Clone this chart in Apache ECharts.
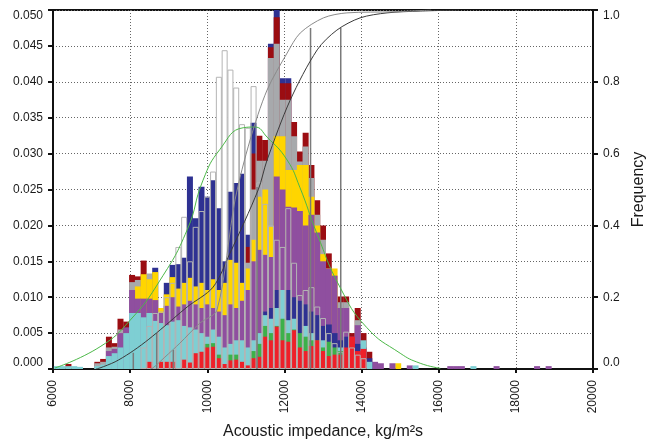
<!DOCTYPE html>
<html><head><meta charset="utf-8">
<script src="https://cdn.jsdelivr.net/npm/echarts@6/dist/echarts.min.js"></script>
<style>html,body{margin:0;padding:0;background:#fff}#c{width:647px;height:447px}</style>
</head><body><div id="c"></div>
<script>
// bin centres (kg/m2s), bin width 150
const bins = [6100,6250,6400,6550,6700,6850,7000,7150,7300,7450,7600,7750,7900,8050,8200,8350,8500,8650,8800,8950,9100,9250,9400,9550,9700,9850,10000,10150,10300,10450,10600,10750,10900,11050,11200,11350,11500,11650,11800,11950,12100,12250,12400,12550,12700,12850,13000,13150,13300,13450,13600,13750,13900,14050,14200,14350,14500,14650,14800,14950,15100,15250,15400];
// visible top height of each colour band (frequency density)
const blueTop = [0,0,0,0,0,0,0,0,0,0,0,0,0,0,0,0,0,0,0,0,0,0,0,0,0,0,0,0,0,0,0,0,0,.0187,.0343,0,0,.0453,.0500,.0405,.0405,0,0,0,0,0,0,0,0,0,0,0,0,0,0,0,0,0,0,0,0,0,0];
const darkRed = [0,0,.0007,0,0,0,0,.0010,.0014,.0045,.0036,.0070,.0066,.0131,.0129,.0151,0,0,0,0,0,0,0,0,0,0,0,0,0,0,0,0,0,.0170,.0300,.0325,.0319,.0448,.0490,.0398,.0398,.0344,.0303,.0329,.0284,.0235,.0200,.0161,0,.0101,.0101,.0050,.0085,.0050,.0024,0,0,0,0,0,0,0,0];
const grey = [0,0,0,0,0,0,0,.0008,.0010,.0030,.0031,.0055,0,.0121,.0124,0,.0133,0,0,0,0,0,0,0,0,0,0,0,0,0,0,0,0,.0148,.0250,.0290,.0290,.0433,.0453,.0375,.0375,.0324,.0289,.0310,.0266,.0215,.0180,0,0,.0093,.0093,0,.0068,0,0,0,0,0,0,0,0,0,0];
const blueHigh = [0,0,0,0,0,0,0,0,0,0,0,0,0,0,0,0,0,.0141,0,.0120,.0145,.0146,.0155,.0268,.0210,.0254,.0240,.0263,.0224,.0150,.0247,.0259,.0272,0,0,0,0,0,0,0,0,0,0,0,0,0,0,0,0,0,0,0,0,0,0,0,0,0,0,0,0,0,0];
const yellow = [0,0,0,0,0,0,0,0,0,0,0,0,0,0,.0115,.0132,.0125,.0135,.0085,.0104,.0128,.0112,.0120,.0127,.0115,.0120,.0110,.0125,.0110,.0120,.0152,.0148,.0120,.0140,.0180,.0240,.0250,.0198,.0324,.0324,.0277,.0277,.0284,.0284,.0240,.0200,.0160,.0140,.0140,0,0,0,0,0,0,0,0,0,0,.0008,0,0,0];
const purple = [0,0,0,0,0,0,0,0,0,.0025,.0028,.0050,.0058,.0110,.0098,.0098,.0098,.0096,.0078,.0088,.0100,.0087,.0090,.0095,.0090,.0085,.0090,.0085,.0080,.0075,.0090,.0085,.0095,.0110,.0150,.0166,.0159,.0156,.0268,.0250,.0226,.0225,.0220,.0200,.0215,.0190,.0150,.0140,.0130,.0085,.0085,.0045,.0061,0,0,.0010,.0008,0,.0008,0,0,.0005,0];
const blueLow = [0,0,0,0,0,0,0,0,0,0,0,0,0,0,0,0,0,0,0,0,0,0,0,0,0,0,0,0,0,0,0,0,0,0,0,0,.0080,.0085,.0110,.0110,.0110,.0100,.0095,.0090,.0080,.0075,.0060,.0062,.0050,.0040,.0045,.0030,.0035,.0030,.0015,0,0,0,0,0,0,0,0];
const cyan = [.0004,.0004,.0004,.0004,.0003,0,0,.0004,.0006,.0018,.0022,.0030,.0050,.0078,.0078,.0072,.0078,.0067,.0064,.0061,.0066,.0068,.0060,.0058,.0055,.0050,.0045,.0055,.0045,.0030,.0035,.0040,.0040,.0030,.0040,.0050,.0075,.0070,.0085,.0110,.0068,.0070,0,.0060,.0050,0,.0040,0,0,.0030,0,.0025,.0020,.0040,.0010,0,0,0,0,0,0,0,.0005];
const green = [0,0,0,0,0,0,0,0,0,0,0,0,0,0,0,0,0,0,0,0,0,0,0,0,0,0,.0035,.0036,.0020,0,.0020,.0020,0,0,.0025,.0035,.0060,.0050,.0060,.0070,.0050,.0055,.0050,.0045,.0040,.0040,.0030,.0038,.0030,.0025,.0028,0,0,0,0,0,0,0,0,0,0,0,0];
const red = [0,0,0,0,0,0,0,0,0,0,0,0,0,0,0,0,.0010,0,.0010,.0010,.0010,0,.0013,.0009,.0022,.0024,.0030,.0031,.0015,.0007,.0012,.0013,.0010,.0005,.0015,.0017,.0045,.0040,.0059,.0040,.0038,.0054,.0030,.0025,.0032,.0040,.0025,.0018,.0020,.0020,.0030,.0045,.0025,.0028,0,0,0,0,0,0,0,0,0];
// outline (unfilled) histogram
const outline = [0,0,0,0,0,0,0,0,0,0,0,0,0,0,0,.0030,.0060,.0078,.0080,.0100,.0120,.0170,.0212,.0150,.0198,.0220,.0240,.0275,.0407,.0444,.0417,.0392,.0341,.0336,.0394,.0260,.0230,.0200,.0180,.0170,.0224,.0148,.0103,.0110,.0114,.0087,.0071,.0050,.0036,.0024,.0052,.0030,.0020,.0015,0,0,0,0,0,0,0,0,0];
// sparse high-impedance tail
const tailBins = [16300,16450,16600,16900,17500,18550,18850];
const tailPurple = [.0004,.0004,.0004,0,.0004,.0004,.0004];
const tailCyan = [0,0,0,.0004,0,0,0];
// normal fit curve
const fitX = [6050,7220,8000,8780,9480,9890,10330,10930,11230,11550,12070,12400,12840,13440,14130,15000,15520,16040];
const fitY = [.00014,.0031,.0068,.0124,.0194,.0263,.0306,.0336,.0337,.0323,.0291,.0253,.0189,.0114,.0058,.0022,.0008,.0001];
// cumulative frequency curves
const cumDarkX = [7115,7220,7610,8000,8390,8780,9480,10150,10590,11320,11550,12150,12850,13360,13960,14660,15520,16530];
const cumDarkY = [0,.003,.020,.045,.075,.109,.173,.228,.323,.499,.582,.749,.889,.944,.978,.992,.997,1.0];
const cumLightX = [8515,8590,8900,9290,9810,10250,10720,11110,11550,12070,12410,13010,13620,14840,15800];
const cumLightY = [0,.003,.033,.072,.128,.164,.471,.638,.777,.880,.936,.978,.992,.995,1.0];
const dropX = [8082,8689,11290,13460,9119,12677];
const dropY = [.045,.10,.507,.95,.053,.95];

const FONT = 'Liberation Sans, Arial, sans-serif';
const pair = (arr) => bins.map((b, i) => [b, arr[i] > 0 ? arr[i] : '-']);
const barBase = {type: 'bar', barWidth: 6, barGap: '-100%', animation: false};
const colours = [
  ['blueTop', blueTop, '#2e3192'], ['darkRed', darkRed, '#9b0d12'], ['grey', grey, '#a7a9ac'],
  ['blueHigh', blueHigh, '#2e3192'], ['yellow', yellow, '#ffd500'], ['purple', purple, '#8f4f9f'],
  ['blueLow', blueLow, '#2e3192'], ['cyan', cyan, '#7ecfd3'], ['green', green, '#3cb14a'], ['red', red, '#ee2029']
];
const series = [];
series.push(Object.assign({}, barBase, {name: 'outlineFill', data: pair(outline), itemStyle: {color: '#fff'}}));
colours.forEach(c => series.push(Object.assign({}, barBase, {name: c[0], data: pair(c[1]), itemStyle: {color: c[2]}})));
series.push(Object.assign({}, barBase, {name: 'tailPurple', data: tailBins.map((b, i) => [b, tailPurple[i] > 0 ? tailPurple[i] : '-']), itemStyle: {color: '#8f4f9f'}}));
series.push(Object.assign({}, barBase, {name: 'tailCyan', data: tailBins.map((b, i) => [b, tailCyan[i] > 0 ? tailCyan[i] : '-']), itemStyle: {color: '#7ecfd3'}}));
series.push(Object.assign({}, barBase, {name: 'outline', data: pair(outline), itemStyle: {color: 'rgba(0,0,0,0)', borderColor: '#b4b4b4', borderWidth: 1}}));
series.push({type: 'line', name: 'fit', data: fitX.map((x, i) => [x, fitY[i]]), smooth: true, showSymbol: false, lineStyle: {color: '#4cb848', width: 1}, z: 5, animation: false});
series.push({type: 'line', name: 'cumDark', yAxisIndex: 1, data: cumDarkX.map((x, i) => [x, cumDarkY[i]]), smooth: 0.3, showSymbol: false, lineStyle: {color: '#3a3a3a', width: 1}, z: 5, animation: false});
series.push({type: 'line', name: 'cumLight', yAxisIndex: 1, data: cumLightX.map((x, i) => [x, cumLightY[i]]), smooth: 0.3, showSymbol: false, lineStyle: {color: '#8a8a8a', width: 1}, z: 5, animation: false});
dropX.forEach((x, i) => series.push({type: 'line', yAxisIndex: 1, data: [[x, 0], [x, dropY[i]]], showSymbol: false, lineStyle: {color: '#7a7a7a', width: 1.5}, z: 4, animation: false}));

const chart = echarts.init(document.getElementById('c'));
chart.setOption({
  animation: false,
  backgroundColor: '#fff',
  grid: {left: 53, right: 54, top: 10, bottom: 78, outerBoundsMode: 'none', containLabel: false,
    show: true, borderColor: '#111', borderWidth: 2, backgroundColor: 'transparent'},
  xAxis: {
    type: 'value', min: 6000, max: 20000, interval: 2000,
    name: 'Acoustic impedance, kg/m\u00b2s', nameLocation: 'middle', nameGap: 55,
    nameTextStyle: {fontFamily: FONT, fontSize: 16, color: '#1a1a1a'},
    axisLine: {lineStyle: {color: '#111', width: 2}},
    axisTick: {show: true, length: 4, lineStyle: {color: '#111', width: 2}},
    axisLabel: {rotate: 90, fontFamily: FONT, fontSize: 12, color: '#1a1a1a', margin: 11, formatter: v => String(v)},
    splitLine: {show: true, lineStyle: {type: [1, 2], color: '#666', width: 1}}
  },
  yAxis: [{
    type: 'value', min: 0, max: 0.05, interval: 0.005, position: 'left',
    axisLine: {show: true, lineStyle: {color: '#111', width: 2}},
    axisTick: {show: true, length: 5, lineStyle: {color: '#111', width: 2}},
    axisLabel: {fontFamily: FONT, fontSize: 12, color: '#1a1a1a', margin: 10, formatter: v => v.toFixed(3),
      verticalAlignMaxLabel: 'top', verticalAlignMinLabel: 'bottom'},
    splitLine: {show: true, lineStyle: {type: [1, 2], color: '#666', width: 1}}
  }, {
    type: 'value', min: 0, max: 1, interval: 0.2, position: 'right',
    name: 'Frequency', nameLocation: 'middle', nameGap: 32, nameRotate: 90,
    nameTextStyle: {fontFamily: FONT, fontSize: 16, color: '#1a1a1a'},
    axisLine: {show: true, lineStyle: {color: '#111', width: 2}},
    axisTick: {show: true, length: 5, lineStyle: {color: '#111', width: 2}},
    axisLabel: {fontFamily: FONT, fontSize: 12, color: '#1a1a1a', margin: 10, formatter: v => v.toFixed(1),
      verticalAlignMaxLabel: 'top', verticalAlignMinLabel: 'bottom'},
    splitLine: {show: false}
  }],
  series: series
});
</script></body></html>
